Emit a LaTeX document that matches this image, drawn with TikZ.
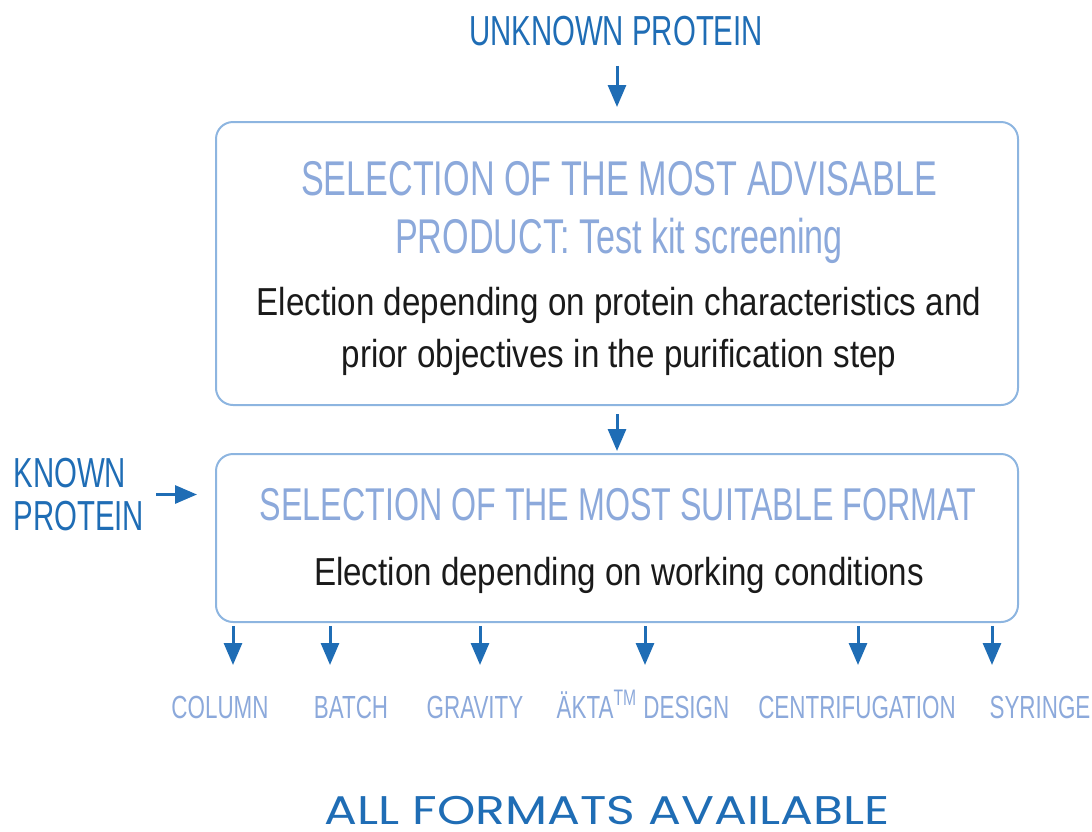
\documentclass[tikz,border=0pt]{standalone}
\usepackage{fontspec}
\setmainfont{Liberation Sans}
\newfontfamily\condfont[FakeStretch=0.70]{Liberation Sans}
\newfontfamily\bodyfont[FakeStretch=0.85]{Liberation Sans}
\newfontfamily\widefont[FakeStretch=1.22]{Poppins}
\usepackage{xcolor}
\usetikzlibrary{arrows.meta,positioning,calc}
\definecolor{deepblue}{HTML}{1F6DB5}
\definecolor{paleblue}{HTML}{8CA9DB}
\definecolor{boxblue}{HTML}{8DB5E0}
\definecolor{inkgray}{HTML}{1A1A1A}

\begin{document}
\begin{tikzpicture}[x=0.5pt,y=-0.5pt,
                    box/.style={draw=boxblue,line width=1pt,rounded corners=8.5pt,
                                minimum width=401pt,inner sep=0pt},
                    head/.style={inner sep=0pt,anchor=base,text=paleblue,
                                 font=\condfont\fontsize{24.4}{28}\selectfont},
                    body/.style={inner sep=0pt,anchor=base,text=inkgray,
                                 font=\bodyfont\fontsize{19.5}{23}\selectfont},
                    entry/.style={inner sep=0pt,text=deepblue,
                                  font=\condfont\fontsize{21}{21.5}\selectfont},
                    fmtlabel/.style={inner sep=0pt,anchor=base,text=paleblue,
                                     font=\condfont\fontsize{16}{19}\selectfont},
                    arr/.style={-{Triangle[length=11pt,width=9pt]},line width=1.5pt,draw=deepblue}]

  \useasboundingbox (0,0) rectangle (1092,831);

  % boxes
  \node[box,minimum height=141.5pt] (box1) at (617,263.5) {};
  \node[box,minimum height=84pt] (box2) at (617,538) {};

  % entry points
  \node[entry,anchor=base] (unknown) at (616,45) {UNKNOWN PROTEIN};
  \node[entry,anchor=west,align=left] (known) at (13,494.5) {KNOWN\\PROTEIN};

  % box texts
  \node[head] (advisable) at (619,195) {SELECTION OF THE MOST ADVISABLE};
  \node[head] (product) at (619,253) {PRODUCT: Test kit screening};
  \node[body] (election) at (619,315) {Election depending on protein characteristics and};
  \node[body] (prior) at (619,367) {prior objectives in the purification step};
  \node[head,font=\condfont\fontsize{23}{27}\selectfont] (suitable) at (618,520)
    {SELECTION OF THE MOST SUITABLE FORMAT};
  \node[body] (working) at (619,585) {Election depending on working conditions};

  % formats
  \node[fmtlabel] (column) at (220,718) {COLUMN};
  \node[fmtlabel] (batch) at (351,718) {BATCH};
  \node[fmtlabel] (gravity) at (475,718) {GRAVITY};
  \node[fmtlabel] (akta) at (643,718) {ÄKTA\textsuperscript{TM} DESIGN};
  \node[fmtlabel] (centrifugation) at (857,718) {CENTRIFUGATION};
  \node[fmtlabel] (syringe) at (1040,718) {SYRINGE};

  \node[inner sep=0pt,anchor=base,text=deepblue,font=\widefont\fontsize{20}{24}\selectfont]
    (allformats) at (607,824) {ALL FORMATS AVAILABLE};

  \coordinate (tip1) at (233,665);
  \coordinate (tip2) at (330,665);
  \coordinate (tip3) at (480,665);
  \coordinate (tip4) at (645,665);
  \coordinate (tip5) at (858,665);
  \coordinate (tip6) at (992,665);

  % arrows
  \draw[arr,shorten <=10pt,shorten >=7pt] (unknown.south -| box1.north) -- (box1.north);
  \draw[arr,shorten <=4pt,shorten >=1pt] (box1.south) -- (box2.north);
  \draw[arr,shorten <=6pt,shorten >=9pt] (known.east) -- (known.east -| box2.west);
  \draw[arr,shorten <=1.5pt] (box2.south -| tip1) -- (tip1);
  \draw[arr,shorten <=1.5pt] (box2.south -| tip2) -- (tip2);
  \draw[arr,shorten <=1.5pt] (box2.south -| tip3) -- (tip3);
  \draw[arr,shorten <=1.5pt] (box2.south -| tip4) -- (tip4);
  \draw[arr,shorten <=1.5pt] (box2.south -| tip5) -- (tip5);
  \draw[arr,shorten <=1.5pt] (box2.south -| tip6) -- (tip6);

\end{tikzpicture}
\end{document}
